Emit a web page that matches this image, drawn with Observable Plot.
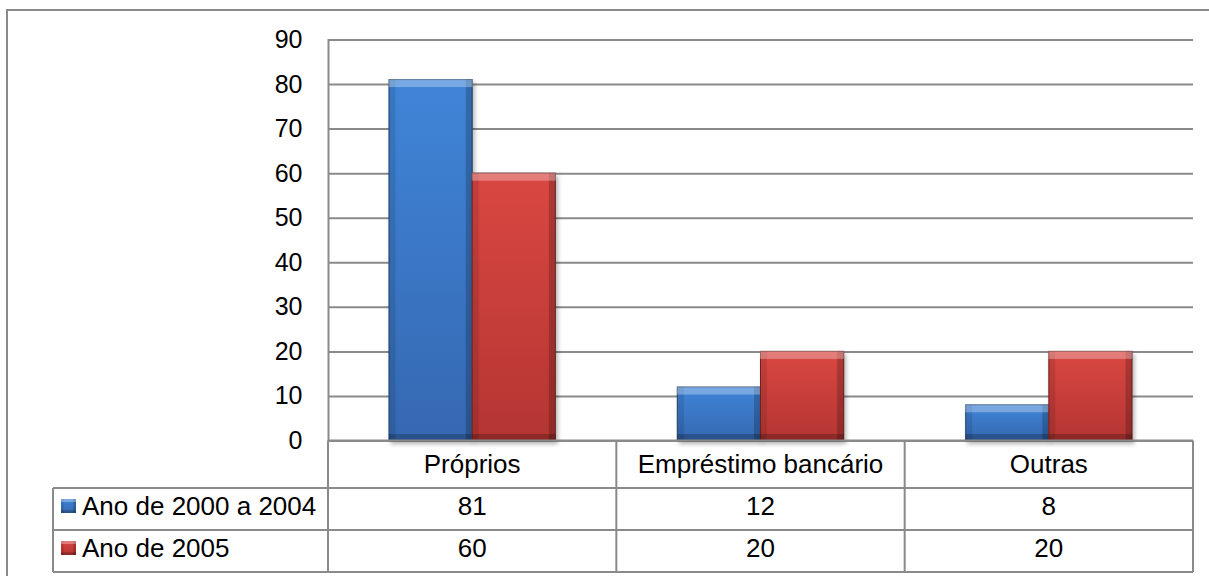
<!DOCTYPE html>
<html>
<head>
<meta charset="utf-8">
<script src="https://cdn.jsdelivr.net/npm/d3@7"></script>
<script src="https://cdn.jsdelivr.net/npm/@observablehq/plot@0.6"></script>
<style>
  html, body { margin: 0; padding: 0; background: #fff; overflow: hidden; }
  #chart { position: absolute; left: 0; top: 0; }
</style>
</head>
<body>
<div id="chart"></div>
<script>
// Fontes de financiamento (%)
const categories = ["Próprios", "Empréstimo bancário", "Outras"];
const seriesNames = ["Ano de 2000 a 2004", "Ano de 2005"];
const values2000to2004 = [81, 12, 8];
const values2005 = [60, 20, 20];
const yTicks = [0, 10, 20, 30, 40, 50, 60, 70, 80, 90];

const rows = categories.map((category, i) => ({
  category,
  a: values2000to2004[i],
  b: values2005[i]
}));

const FONT = "'Liberation Sans', Arial, Helvetica, sans-serif";
const LINE = "#8a8a8a";
const W = 1209, H = 576;
const plotTop = 39.5, plotBottom = 440.5;
const outerGap = 61;              // space between band edge and first/last bar
const bandW = (1193 - 328) / categories.length;
const barW = (bandW - 2 * outerGap) / 2;

const plot = Plot.plot({
  width: W,
  height: H,
  marginLeft: 328,
  marginRight: W - 1193,
  marginTop: plotTop,
  marginBottom: H - plotBottom,
  style: { fontFamily: FONT, fontSize: "25px", color: "#000", background: "#fff", overflow: "visible" },
  x: { type: "band", domain: categories, padding: 0, round: false, axis: null },
  y: { domain: [0, 90], ticks: yTicks, tickSize: 0, tickPadding: 26, label: null },
  marks: [
    Plot.gridY(yTicks, { stroke: LINE, strokeOpacity: 1, strokeWidth: 2 }),
    Plot.frame({ anchor: "left", stroke: LINE, strokeWidth: 2 }),
    Plot.barY(rows, {
      x: "category", y: "a",
      fill: "url(#faceBlue)", stroke: "#23487d", strokeWidth: 1,
      insetLeft: outerGap, insetRight: outerGap + barW
    }),
    Plot.barY(rows, {
      x: "category", y: "b",
      fill: "url(#faceRed)", stroke: "#7e2422", strokeWidth: 1,
      insetLeft: outerGap + barW, insetRight: outerGap
    })
  ]
});

document.getElementById("chart").appendChild(plot);

const svg = d3.select(plot);

// gradients and bevel filters
const defs = svg.insert("defs", ":first-child");
function face(id, top, bottom) {
  const g = defs.append("linearGradient").attr("id", id)
    .attr("x1", 0).attr("y1", 0).attr("x2", 0).attr("y2", 1);
  g.append("stop").attr("offset", 0).attr("stop-color", top);
  g.append("stop").attr("offset", 1).attr("stop-color", bottom);
}
face("faceBlue", "#4085d8", "#3568b1");
face("faceRed", "#da4742", "#b43532");

function bevel(id, d, blur, shadow) {
  const f = defs.append("filter").attr("id", id)
    .attr("x", "-15%").attr("y", "-15%").attr("width", "135%").attr("height", "135%")
    .attr("color-interpolation-filters", "sRGB");
  if (shadow) {
    f.append("feGaussianBlur").attr("in", "SourceAlpha").attr("stdDeviation", blur).attr("result", "b");
    f.append("feOffset").attr("in", "b").attr("dx", 2).attr("dy", 3).attr("result", "bo");
    f.append("feFlood").attr("flood-color", "#000").attr("flood-opacity", 0.3);
    f.append("feComposite").attr("in2", "bo").attr("operator", "in").attr("result", "shadow");
  }
  const strips = [
    ["top", 0, d, "#ffffff", 0.3],
    ["left", d * 0.9, 0, "#000000", 0.1],
    ["right", -d * 0.9, 0, "#000000", 0.2],
    ["bot", 0, -d * 0.9, "#000000", 0.22]
  ];
  strips.forEach(([name, dx, dy, col, op]) => {
    f.append("feOffset").attr("in", "SourceAlpha").attr("dx", dx).attr("dy", dy).attr("result", name + "o");
    f.append("feComposite").attr("in", "SourceAlpha").attr("in2", name + "o").attr("operator", "out").attr("result", name + "s");
    f.append("feFlood").attr("flood-color", col).attr("flood-opacity", op);
    f.append("feComposite").attr("in2", name + "s").attr("operator", "in").attr("result", name);
  });
  const m = f.append("feMerge");
  if (shadow) m.append("feMergeNode").attr("in", "shadow");
  m.append("feMergeNode").attr("in", "SourceGraphic");
  ["left", "right", "bot", "top"].forEach(n => m.append("feMergeNode").attr("in", n));
}
bevel("bevel", 8, 2, true);
bevel("bevelSmall", 3, 1, false);

svg.selectAll("g[aria-label=bar] rect").attr("filter", "url(#bevel)");

// data table under the plot, aligned to the x scale
const xs = plot.scale("x");
const edges = categories.map(c => xs.apply(c)).concat([xs.range[1]]);
const tableLeft = 53;
const rowEdges = [plotBottom, 488, 530, 572];
const right = edges[edges.length - 1];
const t = svg.append("g").attr("fill", "none").attr("stroke", LINE).attr("stroke-width", 2);

t.append("line").attr("x1", edges[0]).attr("x2", right).attr("y1", rowEdges[0]).attr("y2", rowEdges[0]);
rowEdges.slice(1).forEach(y =>
  t.append("line").attr("x1", tableLeft).attr("x2", right).attr("y1", y).attr("y2", y));
t.append("line").attr("x1", tableLeft).attr("x2", tableLeft).attr("y1", rowEdges[1]).attr("y2", rowEdges[3]);
edges.forEach(x =>
  t.append("line").attr("x1", x).attr("x2", x).attr("y1", rowEdges[0]).attr("y2", rowEdges[3]));

const txt = svg.append("g").attr("font-family", FONT).attr("font-size", 26).attr("fill", "#000");
const centers = categories.map(c => xs.apply(c) + xs.bandwidth / 2);

categories.forEach((c, i) =>
  txt.append("text").attr("x", centers[i]).attr("y", rowEdges[0] + 23)
    .attr("text-anchor", "middle").attr("dominant-baseline", "central").text(c));

const seriesValues = [values2000to2004, values2005];
const seriesFaces = ["url(#faceBlue)", "url(#faceRed)"];
seriesNames.forEach((name, s) => {
  const yc = rowEdges[s + 1] + 18;
  svg.append("rect").attr("x", 61).attr("y", yc - 7).attr("width", 15).attr("height", 14)
    .attr("fill", seriesFaces[s]).attr("filter", "url(#bevelSmall)");
  txt.append("text").attr("x", 82).attr("y", yc).attr("text-anchor", "start")
    .attr("dominant-baseline", "central").text(name);
  seriesValues[s].forEach((v, i) =>
    txt.append("text").attr("x", centers[i]).attr("y", yc)
      .attr("text-anchor", "middle").attr("dominant-baseline", "central").text(v));
});

// outer chart border
svg.append("path").attr("d", `M7,${H + 5}V10H${W + 5}`)
  .attr("fill", "none").attr("stroke", LINE).attr("stroke-width", 2);
</script>
</body>
</html>
